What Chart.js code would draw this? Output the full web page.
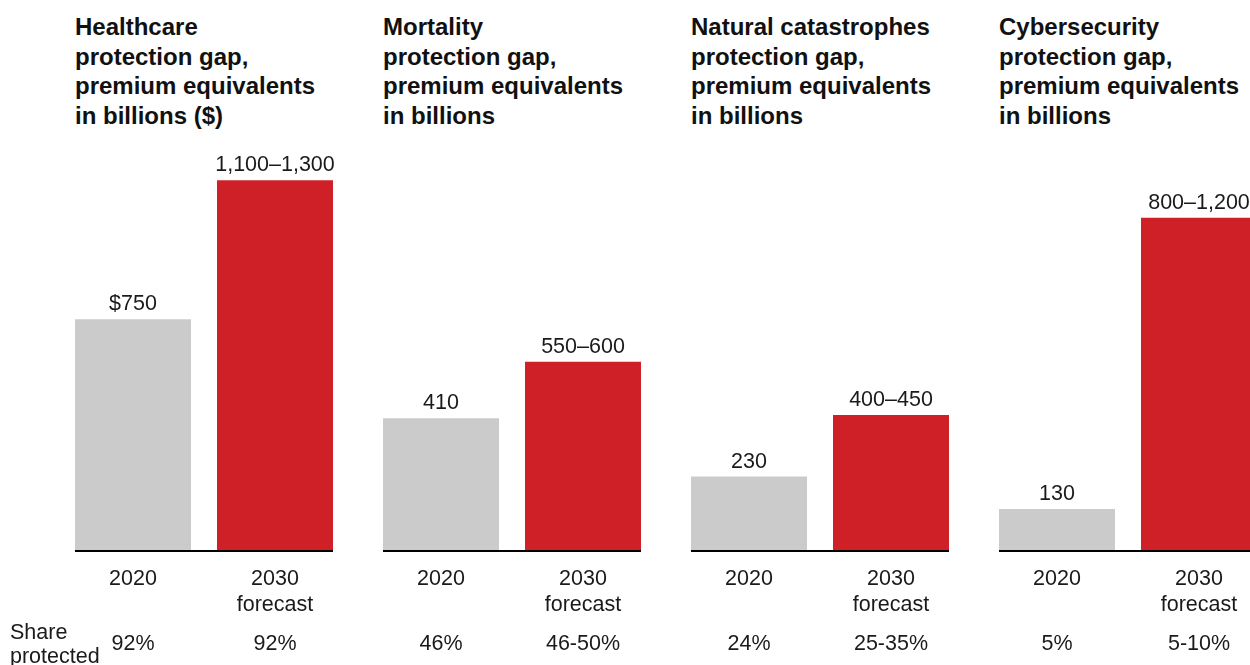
<!DOCTYPE html>
<html lang="en">
<head>
  <meta charset="UTF-8">
  <title>Protection gaps</title>
  <style>
    html, body { margin: 0; padding: 0; background: #fff; overflow: hidden; }
    body { width: 1250px; height: 665px; position: relative; font-family: "Liberation Sans", Arial, sans-serif; color: #111; }
    .title { position: absolute; top: 12px; font-weight: bold; font-size: 24px; line-height: 29.5px; white-space: nowrap; }
    .panel { position: absolute; top: 140px; width: 284px; height: 501px; }
    .share { position: absolute; font-size: 21.5px; line-height: 24px; color: #1a1a1a; text-align: center; width: 116px; top: 631px; }
    .share-label { position: absolute; left: 10px; top: 620px; font-size: 21.5px; line-height: 24px; color: #1a1a1a; }
  </style>
</head>
<body>
  <div id="root"></div>
  <div class="share-label">Share<br>protected</div>

  <script src="https://cdn.jsdelivr.net/npm/chart.js"></script>
  <script>
    // data
    const titles = [
      ['Healthcare', 'protection gap,', 'premium equivalents', 'in billions ($)'],
      ['Mortality', 'protection gap,', 'premium equivalents', 'in billions'],
      ['Natural catastrophes', 'protection gap,', 'premium equivalents', 'in billions'],
      ['Cybersecurity', 'protection gap,', 'premium equivalents', 'in billions']
    ];
    const categories = [['2020'], ['2030', 'forecast']];
    const values2020 = [750, 410, 230, 130];
    const values2030 = [1200, 585, 420, 1030];
    const labels2020 = ['$750', '410', '230', '130'];
    const labels2030 = ['1,100–1,300', '550–600', '400–450', '800–1,200'];
    const share2020 = ['92%', '46%', '24%', '5%'];
    const share2030 = ['92%', '46-50%', '25-35%', '5-10%'];
    const axisMax = [1330, 1270, 1270, 1270];

    const FONT = '"Liberation Sans", Arial, sans-serif';
    const root = document.getElementById('root');

    // value labels above bars + baseline from first to last bar
    const barLabels = {
      id: 'barLabels',
      afterDatasetsDraw(chart) {
        const ctx = chart.ctx;
        const txt = chart.options.plugins.barLabels.texts;
        const bars = chart.getDatasetMeta(0).data;
        ctx.save();
        ctx.font = '21.5px ' + FONT;
        ctx.fillStyle = '#1a1a1a';
        ctx.textAlign = 'center';
        ctx.textBaseline = 'alphabetic';
        bars.forEach((bar, i) => {
          ctx.fillText(txt[i], bar.x, bar.y - 9);
        });
        const first = bars[0], last = bars[bars.length - 1];
        const y = chart.chartArea.bottom;
        ctx.fillStyle = '#000';
        ctx.fillRect(first.x - first.width / 2, y - 1, (last.x + last.width / 2) - (first.x - first.width / 2), 2);
        ctx.restore();
      }
    };

    titles.forEach((t, i) => {
      const left = 75 + 308 * i;

      const h = document.createElement('div');
      h.className = 'title';
      h.style.left = left + 'px';
      h.innerHTML = t.join('<br>');
      root.appendChild(h);

      const box = document.createElement('div');
      box.className = 'panel';
      box.style.left = (left - 13) + 'px';
      const cv = document.createElement('canvas');
      box.appendChild(cv);
      root.appendChild(box);

      [share2020[i], share2030[i]].forEach((s, j) => {
        const d = document.createElement('div');
        d.className = 'share';
        d.style.left = (left + 142 * j) + 'px';
        d.textContent = s;
        root.appendChild(d);
      });

      new Chart(cv, {
        type: 'bar',
        data: {
          labels: categories,
          datasets: [{
            data: [values2020[i], values2030[i]],
            backgroundColor: ['#cbcbcb', '#cf2027'],
            barPercentage: 116 / 142,
            categoryPercentage: 1
          }]
        },
        options: {
          responsive: true,
          maintainAspectRatio: false,
          animation: false,
          layout: { padding: 0 },
          plugins: {
            legend: { display: false },
            tooltip: { enabled: false },
            barLabels: { texts: [labels2020[i], labels2030[i]] }
          },
          scales: {
            x: {
              grid: { display: false, drawTicks: false },
              border: { display: false },
              ticks: {
                color: '#1a1a1a',
                padding: 15,
                font: { family: FONT, size: 21.5, lineHeight: 1.21 }
              },
              afterFit(scale) { scale.height = 90; }
            },
            y: {
              display: false,
              min: 0,
              max: axisMax[i]
            }
          }
        },
        plugins: [barLabels]
      });
    });
  </script>
</body>
</html>
